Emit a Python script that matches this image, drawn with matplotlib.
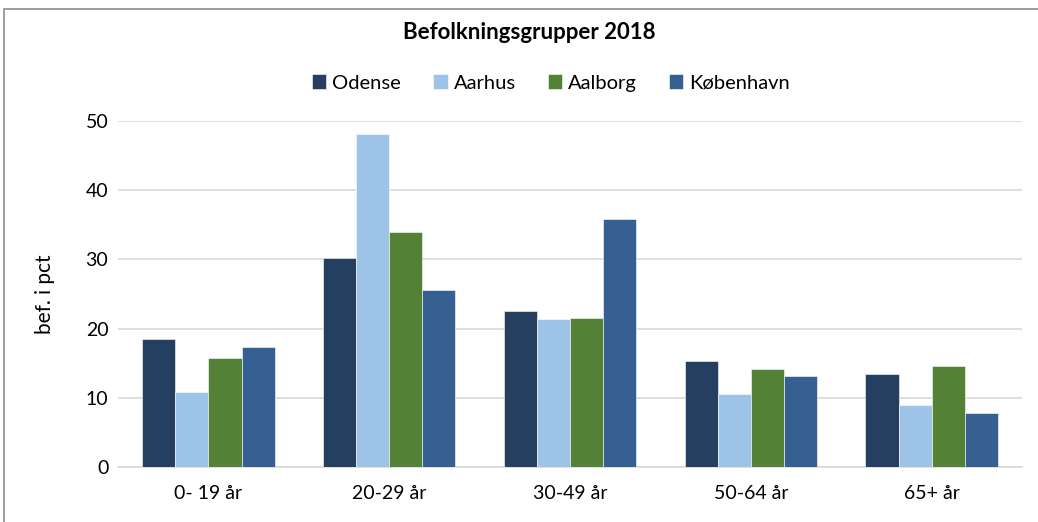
import matplotlib
matplotlib.use("Agg")
import numpy as np
import matplotlib.pyplot as plt
from matplotlib.patches import Rectangle

categories = ["0- 19 år", "20-29 år", "30-49 år", "50-64 år", "65+ år"]
cities = ["Odense", "Aarhus", "Aalborg", "København"]
odense = [18.5, 30.2, 22.5, 15.3, 13.4]
aarhus = [10.9, 48.1, 21.4, 10.5, 9.0]
aalborg = [15.7, 34.0, 21.5, 14.2, 14.6]
kobenhavn = [17.4, 25.6, 35.8, 13.2, 7.8]
colors = ["#253F60", "#9DC3E6", "#538135", "#376092"]

plt.rcParams["font.family"] = ["Lato", "DejaVu Sans"]

fig = plt.figure(figsize=(10.38, 5.22), dpi=100)
ax = fig.add_axes([0.1137, 0.1054, 0.8709, 0.6628])

x = np.arange(len(categories))
w = 0.183
series = [odense, aarhus, aalborg, kobenhavn]
for i, (name, vals) in enumerate(zip(cities, series)):
    ax.bar(x + (i - 1.5) * w, vals, width=w, color=colors[i], label=name,
           edgecolor="white", linewidth=0.4, zorder=3)

ax.set_xlim(-0.5, len(categories) - 0.5)
ax.set_ylim(0, 50)
ax.set_yticks(range(0, 51, 10))
ax.set_xticks(x)
ax.set_xticklabels(categories)
ax.grid(axis="y", color="#D9D9D9", linewidth=1.2, zorder=0)
for s in ["top", "right", "left"]:
    ax.spines[s].set_visible(False)
ax.spines["bottom"].set_color("#D9D9D9")
ax.spines["bottom"].set_linewidth(1.2)
ax.tick_params(axis="both", length=0, labelsize=14, colors="black")
ax.tick_params(axis="x", pad=13)
ax.tick_params(axis="y", pad=7)
ax.set_ylabel("bef. i pct", fontsize=15, labelpad=22)

fig.text(0.51, 0.937, "Befolkningsgrupper 2018", ha="center", va="center",
         fontsize=16, fontweight="bold")
fig.legend(loc="center", bbox_to_anchor=(0.531, 0.841), ncol=4, frameon=False,
           fontsize=14.5, handlelength=0.7, handleheight=0.7, handletextpad=0.3,
           columnspacing=1.6)

# chart frame
fig.patches.append(Rectangle((4 / 1038, -0.1), 1.2, 1.1 - 9 / 522,
                             transform=fig.transFigure, fill=False,
                             edgecolor="#8C8C8C", linewidth=1.2))

fig.savefig("out.png", dpi=100)
